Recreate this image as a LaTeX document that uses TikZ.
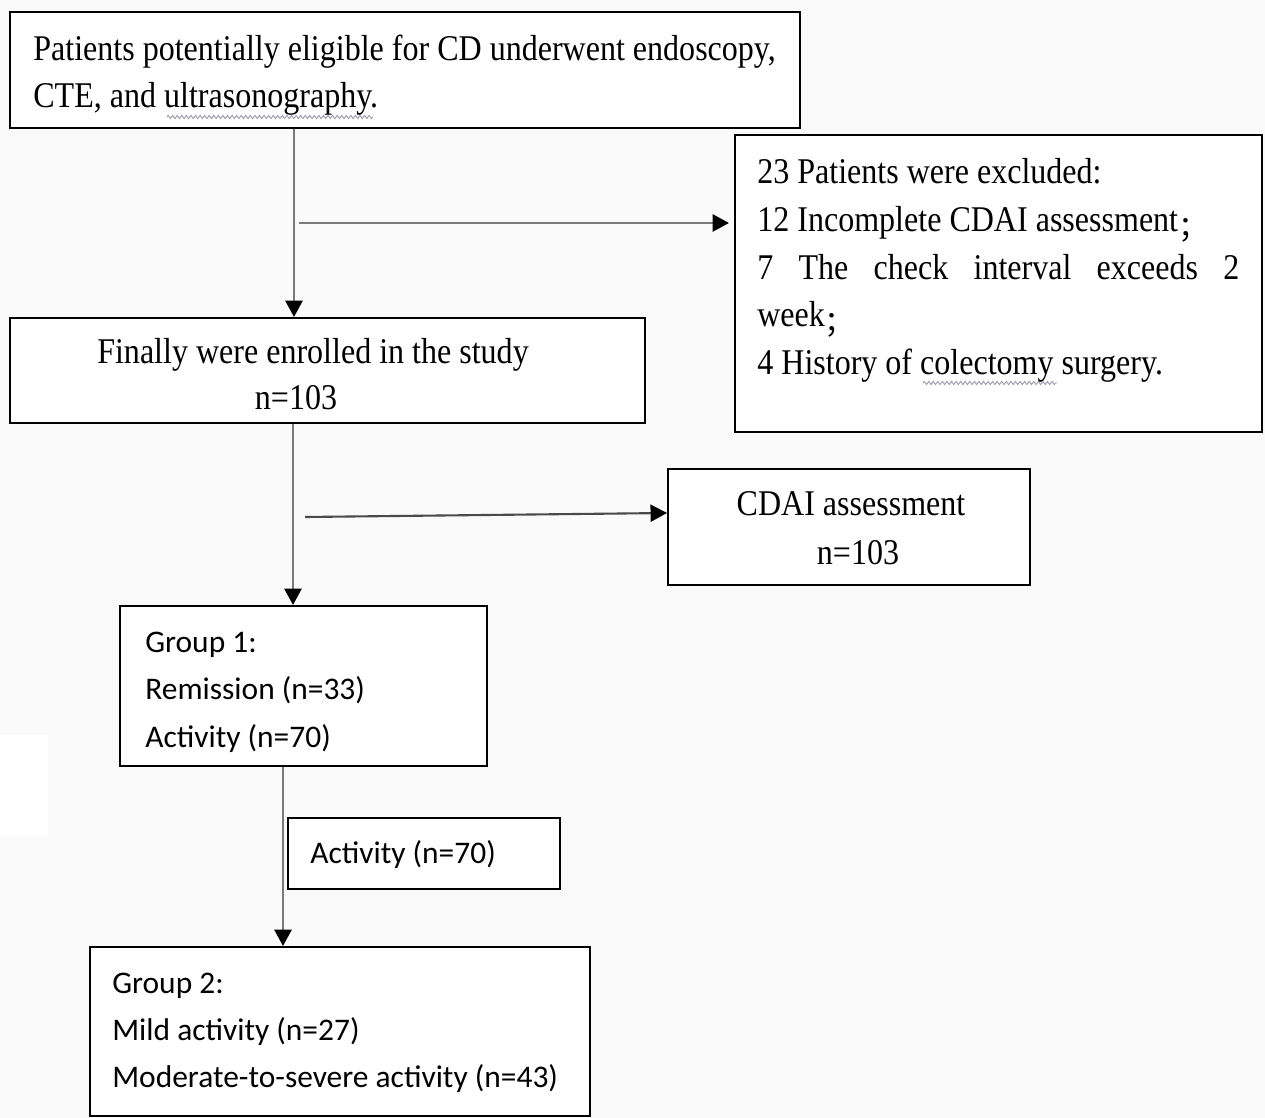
\documentclass[tikz,border=0pt]{standalone}
\usepackage{fontspec}
\usetikzlibrary{arrows.meta,decorations.pathmorphing}
\newfontfamily\srf[FakeStretch=0.885]{Liberation Serif}
\newfontfamily\ssf{Carlito}
\newfontfamily\cjkf{Noto Sans CJK SC}
\newcommand{\fwsemi}{\raisebox{-0.14em}{\fontsize{17pt}{20pt}\cjkf ；}}
\definecolor{bg}{HTML}{FAFAFA}
\definecolor{conngray}{HTML}{7A7A7A}
\definecolor{conndark}{HTML}{4A4A4A}
\definecolor{wavy}{HTML}{9A9AA8}
\begin{document}
\begin{tikzpicture}[x=0.02cm,y=-0.02cm,
  box/.style={draw=black,line width=1.1pt,fill=white,inner sep=0pt},
  serif/.style={font=\fontsize{20.6pt}{27pt}\srf,inner sep=0pt},
  sans/.style={font=\fontsize{17.9pt}{27pt}\ssf,inner sep=0pt},
  conn/.style={draw=conngray,line width=1.7pt,-{Triangle[length=0.33cm,width=0.34cm,black]}},
  conndk/.style={draw=conndark,line width=1.2pt,-{Triangle[length=0.33cm,width=0.34cm,black]}},
  squig/.style={draw=wavy,line width=0.5pt,decorate,decoration={zigzag,amplitude=0.9pt,segment length=2.6pt}}]
\useasboundingbox (0,0) rectangle (1265,1118);
\fill[bg] (0,0) rectangle (1265,1118);
\fill[white] (0,735) rectangle (48,836);

% boxes
\node[box,minimum width=790*0.02cm,minimum height=116*0.02cm] (box1) at (405,70) {};
\node[box,minimum width=527*0.02cm,minimum height=297*0.02cm] (excl) at (998.5,283.5) {};
\node[box,minimum width=635*0.02cm,minimum height=105*0.02cm] (enr) at (327.5,370.5) {};
\node[box,minimum width=362*0.02cm,minimum height=116*0.02cm] (cdai) at (849,527) {};
\node[box,minimum width=367*0.02cm,minimum height=160*0.02cm] (g1) at (303.5,686) {};
\node[box,minimum width=272*0.02cm,minimum height=71*0.02cm] (act) at (424,853.5) {};
\node[box,minimum width=500*0.02cm,minimum height=169*0.02cm] (g2) at (340,1031.5) {};

% texts
\node[serif,anchor=base west] (t1a) at (33,61) {Patients potentially eligible for CD underwent endoscopy,};
\node[serif,anchor=base west] (t1b) at (33,108) {CTE, and ultrasonography.};
\draw[squig] (167,117) -- (373,117);

\node[serif,anchor=base west] (e1) at (757,184) {23 Patients were excluded:};
\node[serif,anchor=base west] (e2) at (757,232) {12 Incomplete CDAI assessment\fwsemi};
\node[serif,anchor=base west] (e3) at (757,280) {\makebox[9.64cm][s]{7 The check interval exceeds 2}};
\node[serif,anchor=base west] (e4) at (757,327) {week\fwsemi};
\node[serif,anchor=base west] (e5) at (757,375) {4 History of colectomy surgery.};
\draw[squig] (923,383) -- (1057,383);

\node[serif,anchor=base] (n1) at (313,364) {Finally were enrolled in the study};
\node[serif,anchor=base] (n2) at (296,410) {n=103};

\node[serif,anchor=base] (c1) at (851,516) {CDAI assessment};
\node[serif,anchor=base] (c2) at (858,564) {n=103};

\node[sans,anchor=base west] (g1a) at (145,652) {Group 1:};
\node[sans,anchor=base west] (g1b) at (145,699) {Remission (n=33)};
\node[sans,anchor=base west] (g1c) at (145,747) {Activity (n=70)};

\node[sans,anchor=base west] (a1) at (310,863) {Activity (n=70)};

\node[sans,anchor=base west] (g2a) at (112,993) {Group 2:};
\node[sans,anchor=base west] (g2b) at (112,1040) {Mild activity (n=27)};
\node[sans,anchor=base west] (g2c) at (112,1087) {Moderate-to-severe activity (n=43)};

% connectors
\coordinate (v1) at (294,0);
\coordinate (v2) at (293,0);
\coordinate (v3) at (283,0);
\coordinate (b1) at (299,223);
\coordinate (b2) at (305,517);
\coordinate (b2e) at (0,513);
\draw[conn] (box1.south -| v1) -- (enr.north -| v1);
\draw[conn,shorten >=0.1cm] (b1) -- (b1 -| excl.west);
\draw[conn] (enr.south -| v2) -- (g1.north -| v2);
\draw[conndk] (b2) -- (cdai.west |- b2e);
\draw[conn] (g1.south -| v3) -- (g2.north -| v3);
\end{tikzpicture}
\end{document}
